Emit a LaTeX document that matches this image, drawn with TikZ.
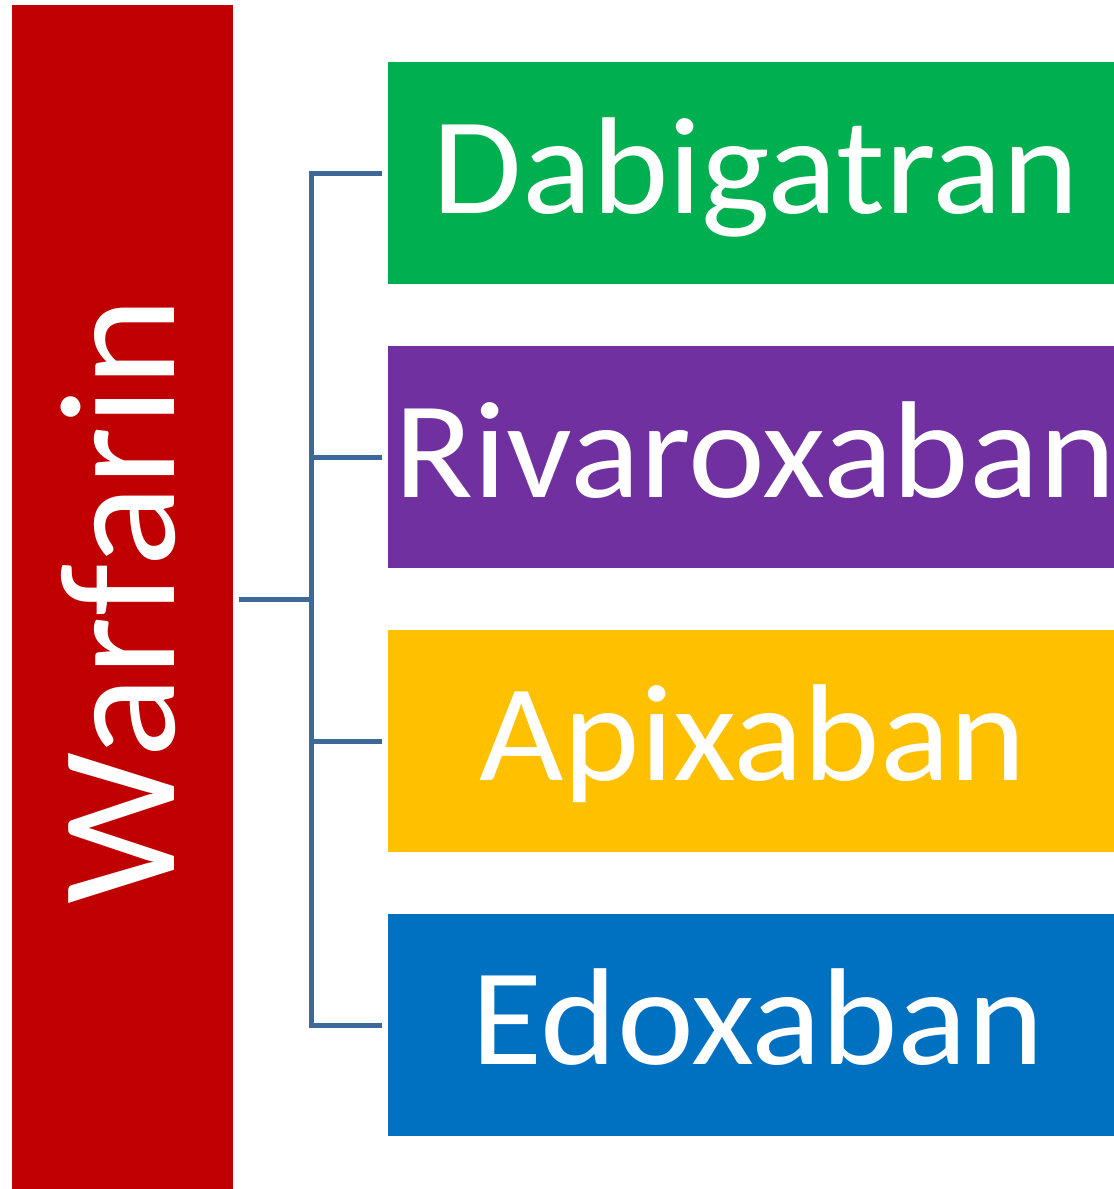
\documentclass[tikz,border=0pt]{standalone}
\usepackage{fontspec}
\setmainfont{Carlito}
\definecolor{warfred}{HTML}{C00000}
\definecolor{dabgreen}{HTML}{00B050}
\definecolor{rivpurple}{HTML}{7030A0}
\definecolor{apiyellow}{HTML}{FFC000}
\definecolor{edoblue}{HTML}{0070C0}
\definecolor{linkblue}{HTML}{3E6897}
\newcommand{\widetext}[2]{\scalebox{#1}[1]{#2}}
\begin{document}
\begin{tikzpicture}[x=1pt,y=-1pt,
  drugbox/.style={anchor=north west, minimum width=726pt, minimum height=222pt,
    inner sep=0pt},
  druglabel/.style={anchor=base, inner sep=0pt, text=white,
    font=\fontsize{138}{150}\selectfont},
  link/.style={draw=linkblue, line width=5pt}]
\useasboundingbox (0,0) rectangle (1114,1189);
\fill[warfred] (12,5) rectangle (233,1189);
\node[inner sep=0pt, text=white, rotate=90, font=\fontsize{165}{175}\selectfont] (warf) at (118,601) {\widetext{1.036}{Warfarin}};
\coordinate (wout) at (239,599);
\node[drugbox, fill=dabgreen] (dab) at (388,62) {};
\node[drugbox, fill=rivpurple] (riv) at (388,346) {};
\node[drugbox, fill=apiyellow] (api) at (388,630) {};
\node[drugbox, fill=edoblue] (edo) at (388,914) {};
\node[druglabel] (dabt) at (756,213) {\widetext{1.055}{Dabigatran}};
\node[druglabel] (rivt) at (755,497) {\widetext{1.055}{Rivaroxaban}};
\node[druglabel] (apit) at (753,780) {\widetext{1.055}{Apixaban}};
\node[druglabel] (edot) at (758,1064) {\widetext{1.055}{Edoxaban}};
\coordinate (bus) at (311,599);
\draw[link] (wout) -- (bus);
\draw[link, line join=miter] ([xshift=-6pt]dab.west) -- (dab.west -| bus) -- (edo.west -| bus) -- ([xshift=-6pt]edo.west);
\foreach \n in {riv,api}{
  \draw[link] (\n.west -| bus) -- ([xshift=-6pt]\n.west);
}
\end{tikzpicture}
\end{document}
